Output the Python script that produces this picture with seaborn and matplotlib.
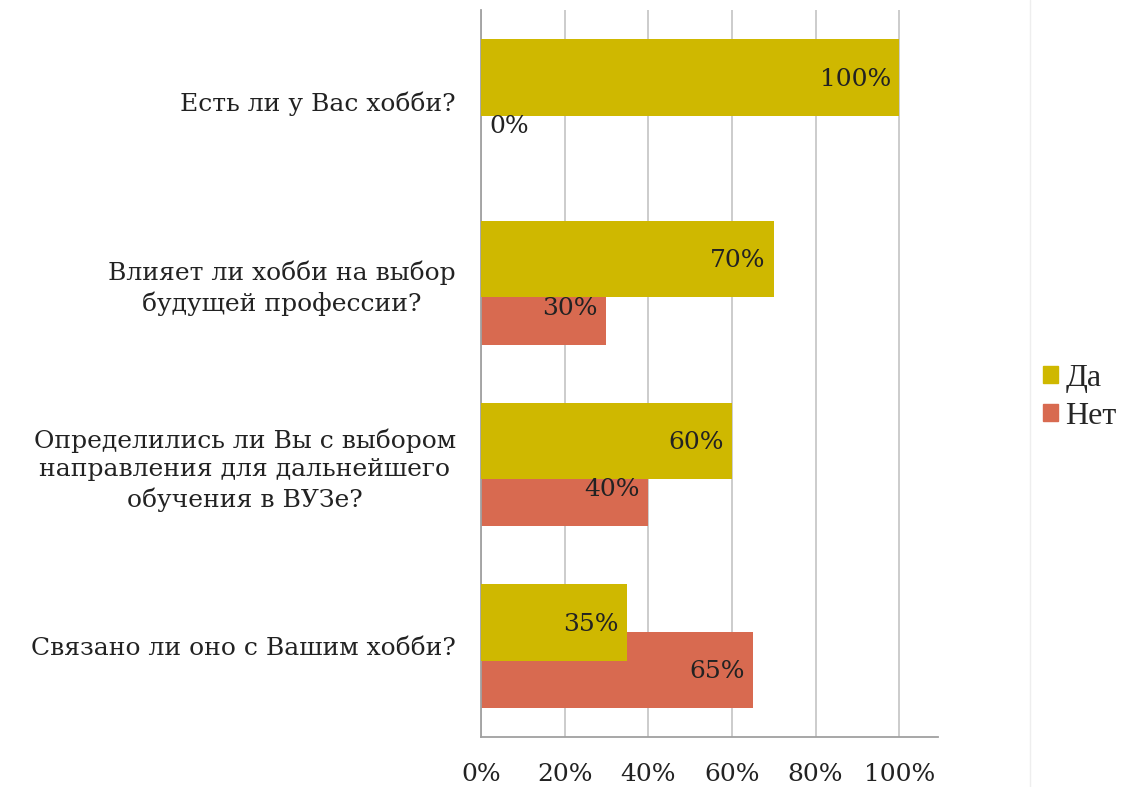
import numpy as np
import pandas as pd
import matplotlib.pyplot as plt
import seaborn as sns
from matplotlib.lines import Line2D


questions = ["Есть ли у Вас хобби?",
             "Влияет ли хобби на выбор\nбудущей профессии?",
             "Определились ли Вы с выбором\nнаправления для дальнейшего\nобучения в ВУЗе?",
             "Связано ли оно с Вашим хобби?"]
yes_vals = [100, 70, 60, 35]
no_vals = [0, 30, 40, 65]
series = ["Да", "Нет"]
colors = ["#CFB800", "#D86A50"]
x_ticks = [0, 20, 40, 60, 80, 100]


df = pd.DataFrame({
    'question': questions * 2,
    'answer': [series[0]] * len(questions) + [series[1]] * len(questions),
    'value': yes_vals + no_vals,
})

sns.set_style('white')
plt.rcParams['font.family'] = ['DejaVu Serif']

fig = plt.figure(figsize=(11.28, 7.87), dpi=100)
ax = fig.add_axes([0.4264, 0.0635, 0.4052, 0.9235])

sns.barplot(data=df, x='value', y='question', hue='answer', order=questions,
            hue_order=series, palette=colors, orient='h', width=0.52,
            saturation=1, legend=False, ax=ax)

# make the bars taller so they overlap, yes-bars drawn over no-bars
bar_h = 0.42
for k, cont in enumerate(ax.containers):
    for p in cont:
        c = p.get_y() + p.get_height() / 2
        p.set_height(bar_h)
        p.set_y(c - bar_h / 2)
        p.set_edgecolor('none')
        p.set_zorder(3 if k == 0 else 2)

# value labels
for k, cont in enumerate(ax.containers):
    vals = yes_vals if k == 0 else no_vals
    for p, v in zip(cont, vals):
        c = p.get_y() + p.get_height() / 2
        if v == 0:
            ax.text(2, c + 0.01, f'{v}%', ha='left', va='center', fontsize=18,
                    color='#222222', zorder=5)
        else:
            ax.text(v - 2, c + 0.01, f'{v}%', ha='right', va='center', fontsize=18,
                    color='#222222', zorder=5)

ax.set_xlim(0, 109.3)
ax.set_ylim(3.5, -0.5)
ax.set_xticks(x_ticks)
ax.set_xticklabels([f'{t}%' for t in x_ticks], fontsize=18, color='#222222')
ax.set_yticklabels(questions, fontsize=18, color='#222222', multialignment='center',
                   linespacing=1.3)
ax.tick_params(axis='x', length=0, pad=19)
ax.tick_params(axis='y', length=0, pad=18)
ax.set_xlabel('')
ax.set_ylabel('')
ax.grid(axis='x', color='#c8c8c8', linewidth=1.3, zorder=0)
ax.set_axisbelow(True)
for s in ['top', 'right']:
    ax.spines[s].set_visible(False)
ax.spines['left'].set_color('#a0a0a0')
ax.spines['bottom'].set_color('#a0a0a0')
ax.spines['left'].set_linewidth(1.3)
ax.spines['bottom'].set_linewidth(1.3)

handles = [plt.Rectangle((0, 0), 1, 1, color=c) for c in colors]
fig.legend(handles, series, loc='center left', bbox_to_anchor=(0.922, 0.495),
           frameon=False, handlelength=0.45, handleheight=0.45,
           handletextpad=0.25, labelspacing=0.3, borderpad=0.1, borderaxespad=0,
           prop={'family': 'Liberation Serif', 'size': 23})

fig.add_artist(Line2D([0.913, 0.913], [0, 1], color='#eeeeee', linewidth=1))

fig.savefig('out.png', dpi=100)
